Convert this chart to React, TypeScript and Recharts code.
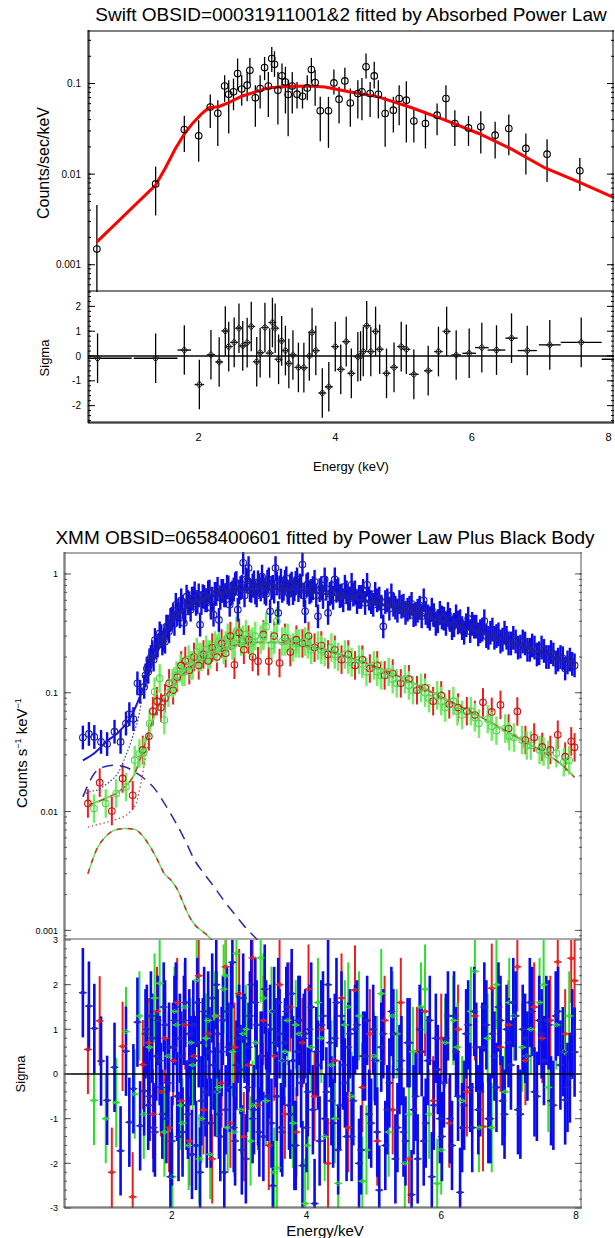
import React from "react";
import { ComposedChart, Scatter, Line, XAxis, YAxis, ErrorBar, ReferenceLine } from "recharts";

const FONT = '"Liberation Sans", Arial, Helvetica, sans-serif';

// ---------------- Swift (top figure) ----------------
const SWIFT_X = [0.38, 8.08];
const SWIFT_Y = [0.0005, 0.39];
const SWIFT_SIG = [-2.7, 2.58];

const swiftEnergy = [
  0.51, 1.37, 1.79, 2.0, 2.17, 2.28, 2.38, 2.44, 2.51, 2.57,
  2.63, 2.71, 2.75, 2.83, 2.9, 2.965, 3.02, 3.07, 3.11, 3.16,
  3.22, 3.27, 3.31, 3.37, 3.44, 3.52, 3.59, 3.65, 3.705, 3.78,
  3.9, 3.98, 4.055, 4.14, 4.22, 4.33, 4.39, 4.45, 4.51, 4.57,
  4.63, 4.73, 4.85, 4.935, 5.04, 5.15, 5.32, 5.49, 5.62, 5.75,
  5.95, 6.13, 6.34, 6.54, 6.79, 7.1, 7.58,
];
const swiftRate = [
  0.00149, 0.0078, 0.031, 0.0265, 0.055, 0.047, 0.094, 0.076, 0.081, 0.129,
  0.087, 0.096, 0.14, 0.0695, 0.088, 0.15, 0.094, 0.189, 0.163, 0.0844,
  0.1216, 0.104, 0.0757, 0.094, 0.0763, 0.0724, 0.0895, 0.1425, 0.1026, 0.05,
  0.05, 0.1017, 0.0672, 0.107, 0.061, 0.0776, 0.081, 0.153, 0.0776, 0.1215,
  0.0762, 0.0467, 0.0508, 0.0684, 0.0655, 0.0385, 0.0362, 0.0448, 0.0684, 0.0362,
  0.0324, 0.0333, 0.0269, 0.0319, 0.0192, 0.0166, 0.0109,
];
const swiftLow = [
  0.0003, 0.0035, 0.0176, 0.0137, 0.0324, 0.0205, 0.0628, 0.0281, 0.0508, 0.0844,
  0.0568, 0.0638, 0.1, 0.0333, 0.053, 0.109, 0.0428, 0.1345, 0.1185, 0.0353,
  0.0881, 0.0467, 0.0262, 0.0467, 0.053, 0.053, 0.0655, 0.1, 0.0568, 0.0231,
  0.0195, 0.0757, 0.0362, 0.0809, 0.0333, 0.0411, 0.0394, 0.1135, 0.0428, 0.0881,
  0.0411, 0.02, 0.0288, 0.0347, 0.0223, 0.0223, 0.0192, 0.0269, 0.0378, 0.0205,
  0.0205, 0.0169, 0.0149, 0.0162, 0.0099, 0.0082, 0.0065,
];
const swiftHigh = [
  0.00455, 0.0121, 0.044, 0.0394, 0.0757, 0.0655, 0.1236, 0.109, 0.1135, 0.189,
  0.1236, 0.1345, 0.192, 0.0959, 0.1236, 0.197, 0.1345, 0.2535, 0.2275, 0.1345,
  0.1665, 0.153, 0.109, 0.1345, 0.1043, 0.0959, 0.1236, 0.192, 0.14, 0.0713,
  0.0713, 0.1425, 0.0919, 0.149, 0.0881, 0.109, 0.1155, 0.214, 0.1043, 0.1735,
  0.109, 0.0713, 0.0713, 0.0959, 0.106, 0.053, 0.0495, 0.0602, 0.0959, 0.0508,
  0.044, 0.0495, 0.0378, 0.0455, 0.0281, 0.0243, 0.0151,
];
const swiftModelE = [0.51, 1.37, 1.51, 1.66, 1.8, 1.92, 2.05, 2.15, 2.29, 2.44, 2.63, 2.83, 3.02, 3.27, 3.61, 3.85, 4.2, 4.63, 5.12, 5.61, 6.1, 6.58, 7.07, 7.56, 8.08];
const swiftModel = [0.00179, 0.00757, 0.0116, 0.0192, 0.0285, 0.037, 0.047, 0.054, 0.0555, 0.0617, 0.0724, 0.081, 0.0895, 0.0927, 0.0942, 0.0918, 0.081, 0.0713, 0.054, 0.0394, 0.0281, 0.0189, 0.0117, 0.0082, 0.0055];

const swiftResE = [
  0.52, 1.37, 1.79, 2.01, 2.18, 2.3, 2.39, 2.44, 2.52, 2.59,
  2.645, 2.71, 2.77, 2.85, 2.9, 2.97, 3.04, 3.08, 3.12, 3.17,
  3.215, 3.27, 3.32, 3.38, 3.46, 3.54, 3.62, 3.66, 3.715, 3.81,
  3.905, 4.0, 4.08, 4.16, 4.235, 4.33, 4.37, 4.41, 4.46, 4.52,
  4.59, 4.65, 4.75, 4.86, 4.965, 5.04, 5.15, 5.36, 5.51, 5.63,
  5.77, 5.96, 6.145, 6.36, 6.58, 6.81, 7.14, 7.6, 8.3,
];
const swiftSigma = [
  -0.09, -0.09, 0.24, -1.15, 0.05, -0.24, 1.01, 0.38, 0.55, 1.12,
  0.41, 0.54, 1.19, -0.23, 0.135, 1.15, 0.12, 1.35, 1.12, -0.135,
  0.61, 0.22, -0.3, 0.04, -0.46, -0.47, 0.0, 0.95, 0.22, -1.49,
  -1.24, 0.38, -0.54, 0.58, -0.7, -0.03, 0.0, 0.18, 1.22, 0.18,
  0.99, 0.27, -0.7, -0.46, 0.38, 0.27, -0.74, -0.59, 0.18, 0.99,
  0.04, 0.11, 0.34, 0.24, 0.72, 0.22, 0.45, 0.55, -0.13,
];
const swiftResXErr = [
  0.5, 0.32, 0.1, 0.07, 0.06, 0.04, 0.03, 0.03, 0.03, 0.03,
  0.03, 0.03, 0.03, 0.03, 0.03, 0.03, 0.02, 0.02, 0.02, 0.02,
  0.02, 0.03, 0.03, 0.03, 0.04, 0.04, 0.03, 0.02, 0.03, 0.04,
  0.05, 0.04, 0.04, 0.04, 0.04, 0.02, 0.02, 0.02, 0.03, 0.03,
  0.03, 0.03, 0.05, 0.05, 0.05, 0.04, 0.07, 0.06, 0.06, 0.05,
  0.07, 0.1, 0.1, 0.13, 0.09, 0.14, 0.16, 0.3, 0.4,
];

// ---------------- XMM (bottom figure) ----------------
const XMM_X = [0.4, 8.09];
const XMM_Y = [0.00083, 1.53];
const XMM_SIG = [-3, 3];

// pn (blue), first batch of bins
const blueE = [
  0.68, 0.77, 0.85, 0.95, 1.04, 1.15, 1.24, 1.32, 1.37, 1.43,
  1.49, 1.53, 1.59, 1.63, 1.67, 1.71, 1.75, 1.79, 1.82, 1.86,
  1.9, 1.94, 1.98, 2.02, 2.06, 2.1, 2.14, 2.18, 2.22, 2.26,
  2.3, 2.34, 2.38, 2.42, 2.46, 2.5, 2.54, 2.58, 2.62, 2.66,
  2.7, 2.74, 2.78, 2.82, 2.86, 2.9, 2.94, 2.98, 3.02, 3.06,
  3.1, 3.14, 3.18, 3.22, 3.26, 3.3, 3.34, 3.38, 3.42, 3.46,
  3.5, 3.54, 3.58, 3.62, 3.66, 3.7, 3.74, 3.78, 3.82, 3.86,
  3.9, 3.94, 3.98, 4.02, 4.07, 4.12, 4.17, 4.22, 4.27, 4.32,
  4.37, 4.42, 4.47, 4.52, 4.57, 4.62, 4.67, 4.72, 4.78, 4.84,
  4.9, 4.96, 5.02, 5.08, 5.14, 5.2, 5.26, 5.32, 5.38, 5.44,
  5.5, 5.56, 5.62, 5.68, 5.74, 5.8, 5.86, 5.92, 5.98, 6.04,
  6.1, 6.16, 6.22, 6.28, 6.34, 6.4, 6.46, 6.52, 6.58, 6.64,
  6.7, 6.76, 6.82, 6.88, 6.94, 7.0, 7.07, 7.14, 7.21, 7.28,
  7.35, 7.42, 7.49, 7.56, 7.63, 7.7, 7.77, 7.84, 7.91, 7.98,
];
const blueRate = [
  0.042, 0.045, 0.0425, 0.0386, 0.037, 0.047, 0.0386, 0.055, 0.066, 0.06,
  0.12, 0.102, 0.112, 0.16, 0.188, 0.22, 0.278, 0.25, 0.316, 0.26,
  0.269, 0.36, 0.41, 0.45, 0.55, 0.497, 0.6, 0.386, 0.644, 0.566,
  0.62, 0.687, 0.58, 0.374, 0.65, 0.6, 0.7, 0.52, 0.454, 0.68,
  0.41, 0.72, 0.66, 0.78, 0.55, 0.7, 0.82, 0.5, 0.76, 1.24,
  0.9, 1.12, 0.72, 0.85, 0.66, 0.8, 0.95, 0.7, 0.86, 0.485,
  0.78, 1.12, 0.47, 0.88, 0.75, 0.92, 0.68, 0.83, 0.74, 0.9,
  0.8, 1.2, 0.485, 0.82, 0.72, 0.86, 0.44, 0.76, 0.9, 0.47,
  0.7, 0.9, 0.74, 0.66, 0.78, 0.62, 0.81, 0.7, 0.64, 0.72,
  0.81, 0.58, 0.68, 0.62, 0.362, 0.6, 0.66, 0.52, 0.58, 0.54,
  0.5, 0.56, 0.46, 0.52, 0.6, 0.44, 0.5, 0.38, 0.47, 0.42,
  0.46, 0.35, 0.44, 0.4, 0.32, 0.42, 0.38, 0.36, 0.33, 0.4,
  0.29, 0.34, 0.3, 0.27, 0.32, 0.26, 0.29, 0.24, 0.27, 0.23,
  0.25, 0.21, 0.24, 0.2, 0.22, 0.18, 0.2, 0.16, 0.19, 0.17,
];
const blueSigma = [
  1.82, 1.52, 1.02, 0.29, -0.59, 0.15, -1.72, 0.51, -1.08, -0.33,
  1.16, -1.16, -0.38, 1.0, -0.5, 0.8, -1.3, 1.2, 0.3, -0.9,
  1.1, -0.2, -2.3, 0.6, 1.5, -1.4, 0.4, 1.2, -0.7, 0.9,
  -1.8, 0.3, 1.6, -2.2, 0.7, -0.4, 1.3, -1.1, 0.2, 2.0,
  -0.9, 0.5, -2.2, 1.4, -0.3, 2.5, -1.5, 0.8, 0.1, 1.7,
  -1.9, 0.6, 2.0, -0.8, 1.1, -1.3, 0.4, 1.9, -0.5, 1.0,
  -2.5, 0.7, 1.6, -1.2, 0.3, 1.4, -0.7, 1.8, -1.6, 0.5,
  1.2, -2.05, 0.9, -0.4, 1.5, -2.9, 0.2, 1.1, -1.0, 2.0,
  -0.6, 0.8, -1.7, 1.3, -0.2, 0.6, -1.4, 1.0, -2.0, 0.4,
  1.2, -1.1, 0.3, -2.6, 0.9, -0.8, 1.4, -1.9, 0.1, -1.3,
  0.7, -2.7, -0.5, 1.0, -1.5, 0.3, -2.3, 0.8, -1.0, -0.2,
  1.3, -1.6, 0.5, -2.65, -0.7, 1.1, -1.2, 0.6, -0.4, 1.5,
  -1.0, 0.9, -0.3, 1.2, -0.9, 0.7, 1.6, -0.8, 1.0, 0.4,
  1.4, -0.5, 0.9, 1.2, -0.6, 1.3, 0.2, -0.58, -0.09, 0.49,
];
// pn (blue), interleaved second batch of bins
const blueE2 = [
  1.61, 1.65, 1.69, 1.73, 1.77, 1.84, 1.88, 1.92, 1.96, 2.0,
  2.04, 2.08, 2.12, 2.16, 2.2, 2.24, 2.28, 2.32, 2.36, 2.4,
  2.44, 2.48, 2.52, 2.56, 2.6, 2.64, 2.68, 2.72, 2.76, 2.8,
  2.84, 2.88, 2.92, 2.96, 3.0, 3.04, 3.08, 3.12, 3.16, 3.2,
  3.24, 3.28, 3.32, 3.36, 3.4, 3.44, 3.48, 3.52, 3.56, 3.6,
  3.64, 3.68, 3.72, 3.76, 3.8, 3.84, 3.88, 3.92, 3.96, 4.0,
  4.045, 4.095, 4.145, 4.195, 4.245, 4.295, 4.345, 4.395, 4.445, 4.495,
  4.545, 4.595, 4.645, 4.695, 4.75, 4.81, 4.87, 4.93, 4.99, 5.05,
  5.11, 5.17, 5.23, 5.29, 5.35, 5.41, 5.47, 5.53, 5.59, 5.65,
  5.71, 5.77, 5.83, 5.89, 5.95, 6.01, 6.07, 6.13, 6.19, 6.25,
  6.31, 6.37, 6.43, 6.49, 6.55, 6.61, 6.67, 6.73, 6.79, 6.85,
  6.91, 6.97, 7.035, 7.105, 7.175, 7.245, 7.315, 7.385, 7.455, 7.525,
  7.595, 7.665, 7.735, 7.805, 7.875, 7.945,
];
const blueRate2 = [
  0.14, 0.15, 0.2, 0.19, 0.24, 0.3, 0.28, 0.36, 0.33, 0.42,
  0.38, 0.46, 0.44, 0.53, 0.48, 0.58, 0.5, 0.62, 0.56, 0.66,
  0.57, 0.64, 0.6, 0.71, 0.62, 0.68, 0.75, 0.63, 0.72, 0.66,
  0.77, 0.68, 0.74, 0.84, 0.7, 0.78, 0.66, 0.88, 0.73, 0.8,
  0.7, 0.85, 0.74, 0.79, 0.68, 0.9, 0.76, 0.71, 0.83, 0.77,
  0.72, 0.86, 0.7, 0.8, 0.69, 0.84, 0.73, 0.78, 0.66, 0.8,
  0.7, 0.76, 0.66, 0.73, 0.64, 0.75, 0.68, 0.63, 0.72, 0.65,
  0.6, 0.7, 0.62, 0.67, 0.58, 0.64, 0.57, 0.62, 0.55, 0.6,
  0.53, 0.58, 0.51, 0.55, 0.49, 0.53, 0.47, 0.52, 0.45, 0.49,
  0.44, 0.47, 0.42, 0.45, 0.4, 0.43, 0.38, 0.41, 0.37, 0.39,
  0.35, 0.37, 0.33, 0.36, 0.31, 0.34, 0.3, 0.32, 0.29, 0.31,
  0.28, 0.29, 0.26, 0.27, 0.245, 0.26, 0.23, 0.24, 0.215, 0.225,
  0.2, 0.21, 0.19, 0.195, 0.18, 0.175,
];
const blueSigma2 = [
  0.9, -0.7, 1.3, -1.2, 0.4, -0.3, 1.5, -1.0, 0.6, -1.5,
  1.2, -0.5, 0.8, -1.3, 1.6, -0.9, 0.3, 1.1, -1.6, 0.7,
  -0.6, 1.4, -1.1, 0.5, 1.7, -0.4, 0.9, -1.4, 1.2, -0.8,
  0.6, 1.5, -1.2, 0.2, 1.0, -1.7, 0.8, -0.3, 1.3, -1.0,
  1.6, -0.6, 0.4, -1.4, 1.1, 0.0, -1.1, 1.4, -0.5, 0.9,
  -1.3, 0.7, 1.5, -0.9, 0.3, -1.6, 1.2, -0.2, 0.8, -1.2,
  1.0, -0.8, 0.5, -1.5, 1.3, -0.4, 0.7, -1.1, 1.6, -0.7,
  0.2, -1.4, 0.9, -0.6, 1.1, -1.7, 0.4, -0.9, 1.0, -1.3,
  0.6, -1.6, -0.2, 0.9, -1.2, 0.3, -1.5, 0.7, -0.8, -1.9,
  0.5, -1.1, 1.2, -0.7, 0.1, -1.4, 0.8, -1.0, 1.3, -0.5,
  -1.2, 0.9, -0.3, 1.4, -0.8, 0.6, 1.1, -1.0, 0.4, 1.5,
  -0.6, 1.0, 0.2, 1.3, -0.9, 0.8, 1.6, -0.4, 1.2, 0.3,
  1.1, -0.7, 1.4, 0.5, -0.3, 0.9,
];

// MOS1 (red)
const redE = [
  0.755, 0.93, 1.11, 1.27, 1.42, 1.57, 1.66, 1.72, 1.78, 1.84,
  1.9, 1.96, 2.02, 2.08, 2.14, 2.2, 2.26, 2.33, 2.4, 2.47,
  2.54, 2.6, 2.67, 2.74, 2.8, 2.87, 2.93, 3.0, 3.07, 3.14,
  3.2, 3.28, 3.36, 3.44, 3.52, 3.6, 3.68, 3.76, 3.85, 3.94,
  4.03, 4.12, 4.22, 4.32, 4.42, 4.52, 4.62, 4.72, 4.83, 4.94,
  5.05, 5.16, 5.28, 5.4, 5.52, 5.64, 5.76, 5.88, 6.0, 6.12,
  6.25, 6.38, 6.5, 6.62, 6.75, 6.88, 7.0, 7.13, 7.25, 7.38,
  7.5, 7.62, 7.73, 7.84, 7.93, 7.98,
];
const redRate = [
  0.0117, 0.0175, 0.0101, 0.019, 0.0137, 0.033, 0.043, 0.07, 0.085, 0.075,
  0.09, 0.12, 0.105, 0.135, 0.17, 0.185, 0.155, 0.2, 0.17, 0.21,
  0.185, 0.24, 0.2, 0.26, 0.215, 0.3, 0.172, 0.32, 0.23, 0.28,
  0.2, 0.184, 0.31, 0.184, 0.3, 0.178, 0.29, 0.22, 0.28, 0.26,
  0.3, 0.24, 0.25, 0.21, 0.23, 0.19, 0.21, 0.17, 0.19, 0.16,
  0.17, 0.14, 0.145, 0.12, 0.13, 0.105, 0.11, 0.085, 0.095, 0.08,
  0.075, 0.07, 0.065, 0.083, 0.069, 0.079, 0.05, 0.0696, 0.04, 0.042,
  0.035, 0.033, 0.0443, 0.029, 0.039, 0.0347,
];
const redSigma = [
  0.55, 1.19, -2.2, 0.62, -2.75, 0.21, 0.7, -0.9, 1.4, -0.4,
  0.8, -1.2, 0.3, 1.6, -0.6, 1.1, -1.5, 0.4, 2.2, -0.8,
  0.9, -1.9, 1.3, -0.2, 2.4, -1.1, 0.6, 1.8, -1.4, 0.2,
  2.6, -0.7, 1.2, -1.6, 0.4, 2.0, -0.9, 1.5, -1.3, 0.7,
  1.9, -0.5, 1.0, -2.0, 0.3, 1.7, -1.2, 1.88, -0.3, 0.9,
  -1.5, 1.2, -0.8, 1.6, -1.9, 0.5, 1.4, -0.6, 0.8, -1.1,
  1.0, -0.4, 1.3, -1.18, 1.92, 0.6, 1.1, 2.4, 0.3, 1.5,
  0.8, 1.2, 2.51, 0.9, 2.59, 2.09,
];

// MOS2 (green)
const greenE = [
  0.845, 1.02, 1.175, 1.32, 1.45, 1.52, 1.585, 1.67, 1.745, 1.82,
  1.89, 1.95, 2.01, 2.07, 2.13, 2.19, 2.25, 2.31, 2.37, 2.44,
  2.51, 2.57, 2.64, 2.7, 2.77, 2.83, 2.9, 2.96, 3.03, 3.1,
  3.17, 3.24, 3.32, 3.4, 3.48, 3.56, 3.64, 3.72, 3.8, 3.89,
  3.98, 4.07, 4.17, 4.27, 4.37, 4.47, 4.57, 4.67, 4.78, 4.89,
  5.0, 5.11, 5.22, 5.34, 5.46, 5.58, 5.7, 5.82, 5.94, 6.06,
  6.18, 6.31, 6.44, 6.56, 6.69, 6.82, 6.95, 7.08, 7.2, 7.33,
  7.46, 7.59, 7.71, 7.82, 7.9,
];
const greenRate = [
  0.0106, 0.0117, 0.0142, 0.0161, 0.0271, 0.0308, 0.0317, 0.055, 0.102, 0.132,
  0.059, 0.1, 0.12, 0.14, 0.16, 0.15, 0.19, 0.17, 0.22, 0.2,
  0.23, 0.21, 0.25, 0.27, 0.23, 0.29, 0.25, 0.33, 0.27, 0.31,
  0.26, 0.3, 0.28, 0.36, 0.25, 0.4, 0.27, 0.29, 0.24, 0.26,
  0.27, 0.23, 0.25, 0.22, 0.24, 0.2, 0.21, 0.18, 0.19, 0.15,
  0.17, 0.14, 0.15, 0.12, 0.13, 0.105, 0.11, 0.09, 0.095, 0.075,
  0.085, 0.065, 0.07, 0.055, 0.06, 0.048, 0.05, 0.042, 0.04, 0.036,
  0.033, 0.03, 0.031, 0.026, 0.027,
];
const greenSigma = [
  -0.59, -1.0, -0.64, 0.95, -0.45, 1.3, -0.9, 0.6, 1.7, 2.03,
  -1.3, 0.4, -2.3, 1.1, -0.7, 1.5, -1.6, 0.2, 2.1, -1.0,
  0.8, -1.8, 1.3, -0.3, 1.9, -1.2, 0.5, 2.7, -0.8, 1.0,
  -1.5, 0.7, 2.6, -0.6, 1.4, -2.1, 0.3, 1.2, -1.1, 0.9,
  -2.9, 0.6, 1.6, -1.4, 0.2, -2.45, 1.1, -0.5, 1.3, -1.7,
  0.4, 1.8, -1.3, 0.9, -2.0, 0.5, 1.5, -0.9, -2.45, 0.7,
  1.2, -0.6, 1.4, -1.2, 0.8, 2.0, -0.4, 1.3, 0.6, 1.0,
  1.6, -0.3, 1.1, 0.5, 1.3,
];
const greenE2 = [
  2.04, 2.16, 2.28, 2.41, 2.54, 2.67, 2.8, 2.93, 3.06, 3.2,
  3.36, 3.52, 3.68, 3.84, 4.02, 4.22, 4.42, 4.62, 4.83, 5.05,
  5.28, 5.52, 5.76, 6.0, 6.24, 6.5, 6.75, 7.01, 7.27, 7.52,
];
const greenRate2 = [
  0.125, 0.15, 0.17, 0.2, 0.21, 0.235, 0.25, 0.26, 0.28, 0.27,
  0.3, 0.28, 0.27, 0.26, 0.255, 0.23, 0.21, 0.19, 0.175, 0.15,
  0.13, 0.115, 0.1, 0.085, 0.07, 0.062, 0.052, 0.043, 0.036, 0.032,
];
const greenSigma2 = [
  1.4, -1.1, 0.7, -1.9, 1.2, -0.4, 2.2, -1.3, 0.9, -0.7,
  1.7, -2.2, 0.5, 1.1, -1.6, 0.8, -1.0, 1.5, -2.4, 0.3,
  1.3, -0.9, 1.9, -1.7, 0.6, 2.3, -1.2, 1.6, 0.4, 2.0,
];

// model curves (total and components)
const blueModelE = [0.68, 0.85, 1.05, 1.2, 1.42, 1.55, 1.65, 1.75, 1.85, 1.95, 2.05, 2.2, 2.4, 2.6, 2.8, 3.0, 3.3, 3.6, 3.9, 4.2, 4.5, 4.8, 5.1, 5.4, 5.7, 6.0, 6.4, 6.8, 7.2, 7.6, 7.98];
const blueModel = [0.027, 0.031, 0.0397, 0.046, 0.067, 0.1, 0.14, 0.2, 0.27, 0.35, 0.42, 0.52, 0.6, 0.66, 0.7, 0.73, 0.75, 0.75, 0.73, 0.69, 0.65, 0.6, 0.55, 0.5, 0.45, 0.4, 0.34, 0.29, 0.245, 0.205, 0.175];
const rgModelE = [0.755, 1.0, 1.25, 1.45, 1.55, 1.65, 1.75, 1.85, 2.0, 2.2, 2.4, 2.6, 2.8, 3.0, 3.3, 3.6, 3.9, 4.2, 4.5, 4.8, 5.1, 5.4, 5.7, 6.0, 6.3, 6.6, 6.9, 7.2, 7.5, 7.8, 7.98];
const rgModel = [0.0113, 0.0128, 0.0153, 0.0209, 0.03, 0.045, 0.065, 0.085, 0.11, 0.15, 0.185, 0.215, 0.24, 0.255, 0.265, 0.265, 0.255, 0.235, 0.21, 0.185, 0.16, 0.135, 0.112, 0.092, 0.076, 0.062, 0.05, 0.04, 0.032, 0.0245, 0.0194];
const blueBbodyE = [0.68, 0.85, 1.0, 1.15, 1.3, 1.45, 1.6, 1.745, 1.9, 2.04, 2.2, 2.34, 2.5, 2.63, 2.8, 2.93, 3.1, 3.28, 3.45];
const blueBbody = [0.0133, 0.0209, 0.0238, 0.0245, 0.0238, 0.0216, 0.0188, 0.0156, 0.0115, 0.00845, 0.0057, 0.00389, 0.0029, 0.00232, 0.0017, 0.00138, 0.00105, 0.00082, 0.00062];
const bluePowE = [0.68, 0.8, 0.9, 1.0, 1.1, 1.2, 1.25, 1.31, 1.37, 1.42, 1.45, 1.5, 1.55];
const bluePow = [0.0138, 0.0148, 0.0152, 0.0165, 0.0183, 0.021, 0.0238, 0.029, 0.0352, 0.043, 0.0484, 0.06, 0.085];
const rgBbodyE = [0.755, 0.9, 1.0, 1.1, 1.2, 1.3, 1.45, 1.55, 1.65, 1.77, 1.89, 2.0, 2.09, 2.17, 2.24, 2.35, 2.44, 2.58, 2.7];
const rgBbody = [0.003, 0.005, 0.006, 0.00675, 0.0071, 0.0072, 0.0071, 0.0064, 0.00537, 0.0041, 0.003, 0.0026, 0.00217, 0.0017, 0.00138, 0.0011, 0.001, 0.00085, 0.0007];
const rgPowE = [0.755, 0.95, 1.15, 1.35, 1.47, 1.55, 1.62, 1.68];
const rgPow = [0.0074, 0.0079, 0.0085, 0.0096, 0.0117, 0.0184, 0.0309, 0.045];

const X_MAJOR = [2, 4, 6, 8];
const ERR_DEX = { blue: 0.1, red: 0.12, green: 0.12 };

// ---------------- helpers ----------------
const logMinor = (lo: number, hi: number) => {
  const out: number[] = [];
  for (let p = -5; p <= 1; p++)
    for (let m = 1; m <= 9; m++) {
      const v = +(m * Math.pow(10, p)).toPrecision(3);
      if (v >= lo && v <= hi) out.push(v);
    }
  return out;
};
const steps = (lo: number, hi: number, d: number) => {
  const out: number[] = [];
  for (let v = lo; v <= hi + 1e-9; v += d) out.push(+v.toFixed(3));
  return out;
};
const X_MINOR = steps(0.5, 8, 0.5);
const dexErr = (v: number, d: number) => [v - v / Math.pow(10, d), v * Math.pow(10, d) - v];
const pts = (xs: number[], ys: number[]) => xs.map((x, i) => ({ x, y: ys[i] }));
const specPts = (xs: number[], ys: number[], d: number) => xs.map((x, i) => ({ x, y: ys[i], ey: dexErr(ys[i], d) }));
const resPts = (xs: number[], ys: number[]) => xs.map((x, i) => ({ x, y: ys[i], ey: 1 }));

const swiftSpec = swiftEnergy.map((x, i) => ({ x, y: swiftRate[i], ey: [swiftRate[i] - swiftLow[i], swiftHigh[i] - swiftRate[i]] }));
const swiftRes = swiftResE.map((x, i) => ({ x, y: swiftSigma[i], ey: 1, ex: swiftResXErr[i] }));

const blueSpec = [...specPts(blueE, blueRate, ERR_DEX.blue), ...specPts(blueE2, blueRate2, ERR_DEX.blue)];
const blueRes = [...resPts(blueE, blueSigma), ...resPts(blueE2, blueSigma2)];
const greenSpec = [...specPts(greenE, greenRate, ERR_DEX.green), ...specPts(greenE2, greenRate2, ERR_DEX.green)];
const greenRes = [...resPts(greenE, greenSigma), ...resPts(greenE2, greenSigma2)];

const blank = () => "";

// inward ticks on all four sides, drawn by mirrored axes
function frameAxes(o: {
  xDomain: number[]; yDomain: number[]; yScale: "log" | "linear";
  yMinor: number[]; yMajor: number[]; color: string; topLine: boolean;
}) {
  const xs: [string, "top" | "bottom", number[], number, boolean][] = [
    ["fxb2", "bottom", X_MAJOR, 7, true], ["fxb1", "bottom", X_MINOR, 4, false],
    ["fxt2", "top", X_MAJOR, 7, o.topLine], ["fxt1", "top", X_MINOR, 4, false],
  ];
  const ys: [string, "left" | "right", number[], number, boolean][] = [
    ["fyl2", "left", o.yMajor, 6, true], ["fyl1", "left", o.yMinor, 3, false],
    ["fyr2", "right", o.yMajor, 6, true], ["fyr1", "right", o.yMinor, 3, false],
  ];
  return [
    ...xs.map(([id, ori, ticks, size, line]) => (
      <XAxis key={id} xAxisId={id} orientation={ori} mirror height={1} type="number"
        domain={o.xDomain} allowDataOverflow ticks={ticks} interval={0} tickSize={size}
        tickFormatter={blank} stroke={o.color} axisLine={line} />
    )),
    ...ys.map(([id, ori, ticks, size, line]) => (
      <YAxis key={id} yAxisId={id} orientation={ori} mirror width={1} type="number"
        scale={o.yScale} domain={o.yDomain} allowDataOverflow ticks={ticks} interval={0} tickSize={size}
        tickFormatter={blank} stroke={o.color} axisLine={line} />
    )),
  ];
}

const plotClip = (id: string, x: number, y: number, w: number, h: number) => (
  <defs key={id}>
    <clipPath id={id}>
      <rect x={x} y={y} width={w} height={h} />
    </clipPath>
  </defs>
);

const circle = (stroke: string) => (p: any) =>
  p.cx == null ? <g /> : <circle cx={p.cx} cy={p.cy} r={3.3} fill="none" stroke={stroke} strokeWidth={1.1} />;
const diamond = (stroke: string, w: number, h: number) => (p: any) =>
  p.cx == null ? <g /> : (
    <g>
      <line x1={p.cx - w - 1} y1={p.cy} x2={p.cx + w + 1} y2={p.cy} stroke={stroke} strokeWidth={1.2} />
      <polygon points={`${p.cx - w},${p.cy} ${p.cx},${p.cy - h} ${p.cx + w},${p.cy} ${p.cx},${p.cy + h}`} fill="none" stroke={stroke} strokeWidth={1} />
    </g>
  );

const tickStyle = (size: number) => ({ fontSize: size, fill: "#000", fontFamily: FONT });
const fmt = (v: number) => String(v);

const Txt = ({ x, y, size, rotate, children }: any) => (
  <div style={{ position: "absolute", left: x, top: y, transform: `translate(-50%, -50%)${rotate ? " rotate(-90deg)" : ""}`, fontSize: size, whiteSpace: "nowrap", lineHeight: 1, color: "#000", fontFamily: FONT }}>
    {children}
  </div>
);

const Abs = ({ top, children }: any) => (
  <div style={{ position: "absolute", left: 0, top }}>{children}</div>
);

const BLUE_BAR = "#0a0af2";
const BLUE_MARK = "#20209e";
const RED_BAR = "#e82020";
const RED_MARK = "#c41818";
const GREEN_BAR = "#6fee5f";
const GREEN_MARK = "#5ccf5c";
const GREEN_RES = "#2ee02e";

export default function App() {
  return (
    <div style={{ position: "absolute", left: 0, top: 0, width: 615, height: 1238, background: "#fff", overflow: "hidden" }}>
      {/* Swift spectrum */}
      <Abs top={0}>
        <ComposedChart width={615} height={300} margin={{ top: 30, right: 1, bottom: 8, left: 0 }}>
          {plotClip("clipA", 88, 30, 526, 262)}
          <XAxis xAxisId="x" dataKey="x" type="number" domain={SWIFT_X} allowDataOverflow hide />
          <YAxis yAxisId="y" dataKey="y" type="number" scale="log" domain={SWIFT_Y} allowDataOverflow
            ticks={[0.001, 0.01, 0.1]} interval={0} width={88} tickLine={false} tickSize={4} tickMargin={3}
            stroke="#000" tick={tickStyle(10)} tickFormatter={fmt} />
          {frameAxes({ xDomain: SWIFT_X, yDomain: SWIFT_Y, yScale: "log", yMinor: logMinor(0.0005, 0.39), yMajor: [0.001, 0.01, 0.1], color: "#000", topLine: true })}
          <Scatter xAxisId="x" yAxisId="y" data={swiftSpec} shape={circle("#000")} isAnimationActive={false}>
            <ErrorBar dataKey="ey" direction="y" width={0} stroke="#000" strokeWidth={1.3} clipPath="url(#clipA)" />
          </Scatter>
          <Line xAxisId="x" yAxisId="y" data={pts(swiftModelE, swiftModel)} dataKey="y" type="linear"
            stroke="#ff0000" strokeWidth={3} dot={false} isAnimationActive={false} />
        </ComposedChart>
      </Abs>
      {/* Swift residuals */}
      <Abs top={280}>
        <ComposedChart width={615} height={180} margin={{ top: 12, right: 1, bottom: 0, left: 0 }}>
          {plotClip("clipB", 88, 12, 526, 131)}
          <XAxis xAxisId="x" dataKey="x" type="number" domain={SWIFT_X} allowDataOverflow height={37}
            ticks={X_MAJOR} interval={0} tickLine={false} tickSize={8} tickMargin={2} stroke="#000" tick={tickStyle(11)} />
          <YAxis yAxisId="y" dataKey="y" type="number" domain={SWIFT_SIG} allowDataOverflow
            ticks={[-2, -1, 0, 1, 2]} interval={0} width={88} tickLine={false} tickSize={4} tickMargin={3}
            stroke="#000" tick={tickStyle(10)} />
          {frameAxes({ xDomain: SWIFT_X, yDomain: SWIFT_SIG, yScale: "linear", yMinor: steps(-2.6, 2.4, 0.2), yMajor: [-2, -1, 0, 1, 2], color: "#000", topLine: false })}
          <ReferenceLine xAxisId="x" yAxisId="y" y={0} stroke="#444" strokeWidth={2} />
          <Scatter xAxisId="x" yAxisId="y" data={swiftRes} shape={diamond("#222", 3, 3.5)} isAnimationActive={false}>
            <ErrorBar dataKey="ey" direction="y" width={0} stroke="#000" strokeWidth={1.3} clipPath="url(#clipB)" />
            <ErrorBar dataKey="ex" direction="x" width={0} stroke="#000" strokeWidth={1.3} clipPath="url(#clipB)" />
          </Scatter>
        </ComposedChart>
      </Abs>

      {/* XMM spectrum */}
      <Abs top={500}>
        <ComposedChart width={615} height={450} margin={{ top: 52, right: 33, bottom: 10, left: 0 }}>
          {plotClip("clipC", 64, 52, 518, 388)}
          <XAxis xAxisId="x" dataKey="x" type="number" domain={XMM_X} allowDataOverflow hide />
          <YAxis yAxisId="y" dataKey="y" type="number" scale="log" domain={XMM_Y} allowDataOverflow
            ticks={[0.001, 0.01, 0.1, 1]} interval={0} width={64} tickLine={false} tickSize={3} tickMargin={3}
            stroke="#555" tick={tickStyle(9)} tickFormatter={fmt} />
          {frameAxes({ xDomain: XMM_X, yDomain: XMM_Y, yScale: "log", yMinor: logMinor(0.00083, 1.53), yMajor: [0.001, 0.01, 0.1, 1], color: "#555", topLine: true })}
          <Scatter xAxisId="x" yAxisId="y" data={specPts(redE, redRate, ERR_DEX.red)} shape={circle(RED_MARK)} isAnimationActive={false}>
            <ErrorBar dataKey="ey" direction="y" width={0} stroke={RED_BAR} strokeWidth={2} clipPath="url(#clipC)" />
          </Scatter>
          <Scatter xAxisId="x" yAxisId="y" data={greenSpec} shape={circle(GREEN_MARK)} isAnimationActive={false}>
            <ErrorBar dataKey="ey" direction="y" width={0} stroke={GREEN_BAR} strokeWidth={2.4} clipPath="url(#clipC)" />
          </Scatter>
          <Scatter xAxisId="x" yAxisId="y" data={blueSpec} shape={circle(BLUE_MARK)} isAnimationActive={false}>
            <ErrorBar dataKey="ey" direction="y" width={0} stroke={BLUE_BAR} strokeWidth={2.4} clipPath="url(#clipC)" />
          </Scatter>
          <Line xAxisId="x" yAxisId="y" data={pts(blueModelE, blueModel)} dataKey="y" type="monotone" stroke="#1a1ad0" strokeWidth={2} dot={false} isAnimationActive={false} />
          <Line xAxisId="x" yAxisId="y" data={pts(rgModelE, rgModel)} dataKey="y" type="monotone" stroke="#66dd55" strokeWidth={2} dot={false} isAnimationActive={false} />
          <Line xAxisId="x" yAxisId="y" data={pts(rgModelE, rgModel)} dataKey="y" type="monotone" stroke="#d83030" strokeWidth={1.2} strokeDasharray="6 6" dot={false} isAnimationActive={false} />
          <Line xAxisId="x" yAxisId="y" data={pts(blueBbodyE, blueBbody)} dataKey="y" type="monotone" stroke="#2a2aa8" strokeWidth={1.5} strokeDasharray="11 7" dot={false} isAnimationActive={false} />
          <Line xAxisId="x" yAxisId="y" data={pts(bluePowE, bluePow)} dataKey="y" type="monotone" stroke="#3232b4" strokeWidth={1.2} strokeDasharray="1.5 2" dot={false} isAnimationActive={false} />
          <Line xAxisId="x" yAxisId="y" data={pts(rgBbodyE, rgBbody)} dataKey="y" type="monotone" stroke="#70dd60" strokeWidth={1.5} dot={false} isAnimationActive={false} />
          <Line xAxisId="x" yAxisId="y" data={pts(rgBbodyE, rgBbody)} dataKey="y" type="monotone" stroke="#c83030" strokeWidth={1.5} strokeDasharray="5 6" dot={false} isAnimationActive={false} />
          <Line xAxisId="x" yAxisId="y" data={pts(rgPowE, rgPow)} dataKey="y" type="monotone" stroke="#b84040" strokeWidth={1.2} strokeDasharray="1.5 2.5" dot={false} isAnimationActive={false} />
        </ComposedChart>
      </Abs>
      {/* XMM residuals */}
      <Abs top={930}>
        <ComposedChart width={615} height={308} margin={{ top: 10, right: 33, bottom: 0, left: 0 }}>
          {plotClip("clipD", 64, 10, 518, 268)}
          <XAxis xAxisId="x" dataKey="x" type="number" domain={XMM_X} allowDataOverflow height={30}
            ticks={X_MAJOR} interval={0} tickLine={false} tickSize={3} tickMargin={1} stroke="#555" tick={tickStyle(10)} />
          <YAxis yAxisId="y" dataKey="y" type="number" domain={XMM_SIG} allowDataOverflow
            ticks={[-3, -2, -1, 0, 1, 2, 3]} interval={0} width={64} tickLine={false} tickSize={3} tickMargin={3}
            stroke="#555" tick={tickStyle(9)} />
          {frameAxes({ xDomain: XMM_X, yDomain: XMM_SIG, yScale: "linear", yMinor: steps(-2.8, 2.8, 0.2), yMajor: [-3, -2, -1, 0, 1, 2, 3], color: "#555", topLine: false })}
          <Scatter xAxisId="x" yAxisId="y" data={resPts(redE, redSigma)} shape={diamond(RED_BAR, 3, 2)} isAnimationActive={false}>
            <ErrorBar dataKey="ey" direction="y" width={0} stroke={RED_BAR} strokeWidth={2} clipPath="url(#clipD)" />
          </Scatter>
          <Scatter xAxisId="x" yAxisId="y" data={greenRes} shape={diamond(GREEN_RES, 3, 2)} isAnimationActive={false}>
            <ErrorBar dataKey="ey" direction="y" width={0} stroke={GREEN_RES} strokeWidth={2} clipPath="url(#clipD)" />
          </Scatter>
          <Scatter xAxisId="x" yAxisId="y" data={blueRes} shape={diamond("#2424c8", 3, 2)} isAnimationActive={false}>
            <ErrorBar dataKey="ey" direction="y" width={0} stroke={BLUE_BAR} strokeWidth={2.6} clipPath="url(#clipD)" />
          </Scatter>
          <ReferenceLine xAxisId="x" yAxisId="y" y={0} stroke="#000" strokeWidth={1.5} />
        </ComposedChart>
      </Abs>

      {/* titles and axis labels */}
      <Txt x={351} y={14} size={19}>Swift OBSID=00031911001&amp;2 fitted by Absorbed Power Law</Txt>
      <Txt x={44} y={163} size={16} rotate>Counts/sec/keV</Txt>
      <Txt x={44} y={358} size={13} rotate>Sigma</Txt>
      <Txt x={351} y={466} size={13}>Energy (keV)</Txt>

      <Txt x={325} y={537} size={19}>XMM OBSID=0658400601 fitted by Power Law Plus Black Body</Txt>
      <Txt x={21} y={753} size={15} rotate>
        Counts s<sup style={{ fontSize: 9 }}>−1</sup> keV<sup style={{ fontSize: 9 }}>−1</sup>
      </Txt>
      <Txt x={20} y={1074} size={13} rotate>Sigma</Txt>
      <Txt x={325} y={1230} size={15}>Energy/keV</Txt>
    </div>
  );
}
